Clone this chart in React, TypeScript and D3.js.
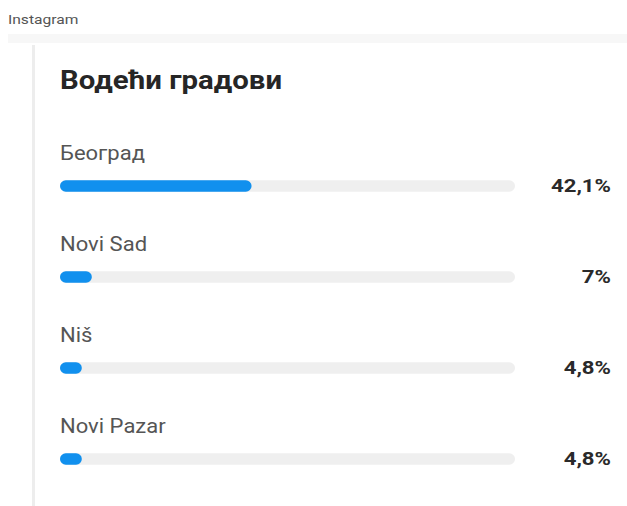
import React from "react";
import * as d3 from "d3";

const source = "Instagram";
const title = "Водећи градови";
const cities = ["Београд", "Novi Sad", "Niš", "Novi Pazar"];
const shares = [42.1, 7, 4.8, 4.8];
const shareLabels = ["42,1%", "7%", "4,8%", "4,8%"];

const W = 627;
const H = 506;
const SX = 1.13;

function T({ x, y, sx = SX, anchor = "start", children, ...rest }: any) {
  return (
    <text transform={`translate(${x},${y}) scale(${sx},1)`} textAnchor={anchor} {...rest}>
      {children}
    </text>
  );
}

export default function App() {
  const x = d3.scaleLinear().domain([0, 100]).range([60, 515]);
  const row = d3.scaleBand<number>().domain(d3.range(cities.length)).range([136, 500]);
  const barH = 11.5;
  return (
    <svg width={W} height={H} style={{ position: "absolute", left: 0, top: 0, background: "#fff" }} fontFamily="Roboto, 'Noto Sans', sans-serif">
      <rect x={0} y={0} width={W} height={H} fill="#fff" />
      <T x={8} y={24} sx={1.2} fontSize={13} fill="#555">{source}</T>
      <rect x={8} y={34} width={W - 8} height={9} fill="#f7f7f7" />
      <rect x={32} y={45} width={3} height={H - 45} fill="#ededed" />
      <T x={60} y={89} fontSize={26} fontWeight={700} fill="#262626">{title}</T>
      {cities.map((c, i) => {
        const y0 = row(i)!;
        const cy = y0 + 50;
        return (
          <g key={c}>
            <T x={60} y={y0 + 24} fontSize={19.5} fill="#555">{c}</T>
            <rect x={x(0)} y={cy - barH / 2} width={x(100) - x(0)} height={barH} rx={barH / 2} fill="#efefef" />
            <rect x={x(0)} y={cy - barH / 2} width={x(shares[i]) - x(0)} height={barH} rx={barH / 2} fill="#1190ee" />
            <T x={611} y={cy + 6} sx={1.2} anchor="end" fontSize={18.5} fontWeight={700} fill="#2a2a2a">{shareLabels[i]}</T>
          </g>
        );
      })}
    </svg>
  );
}
